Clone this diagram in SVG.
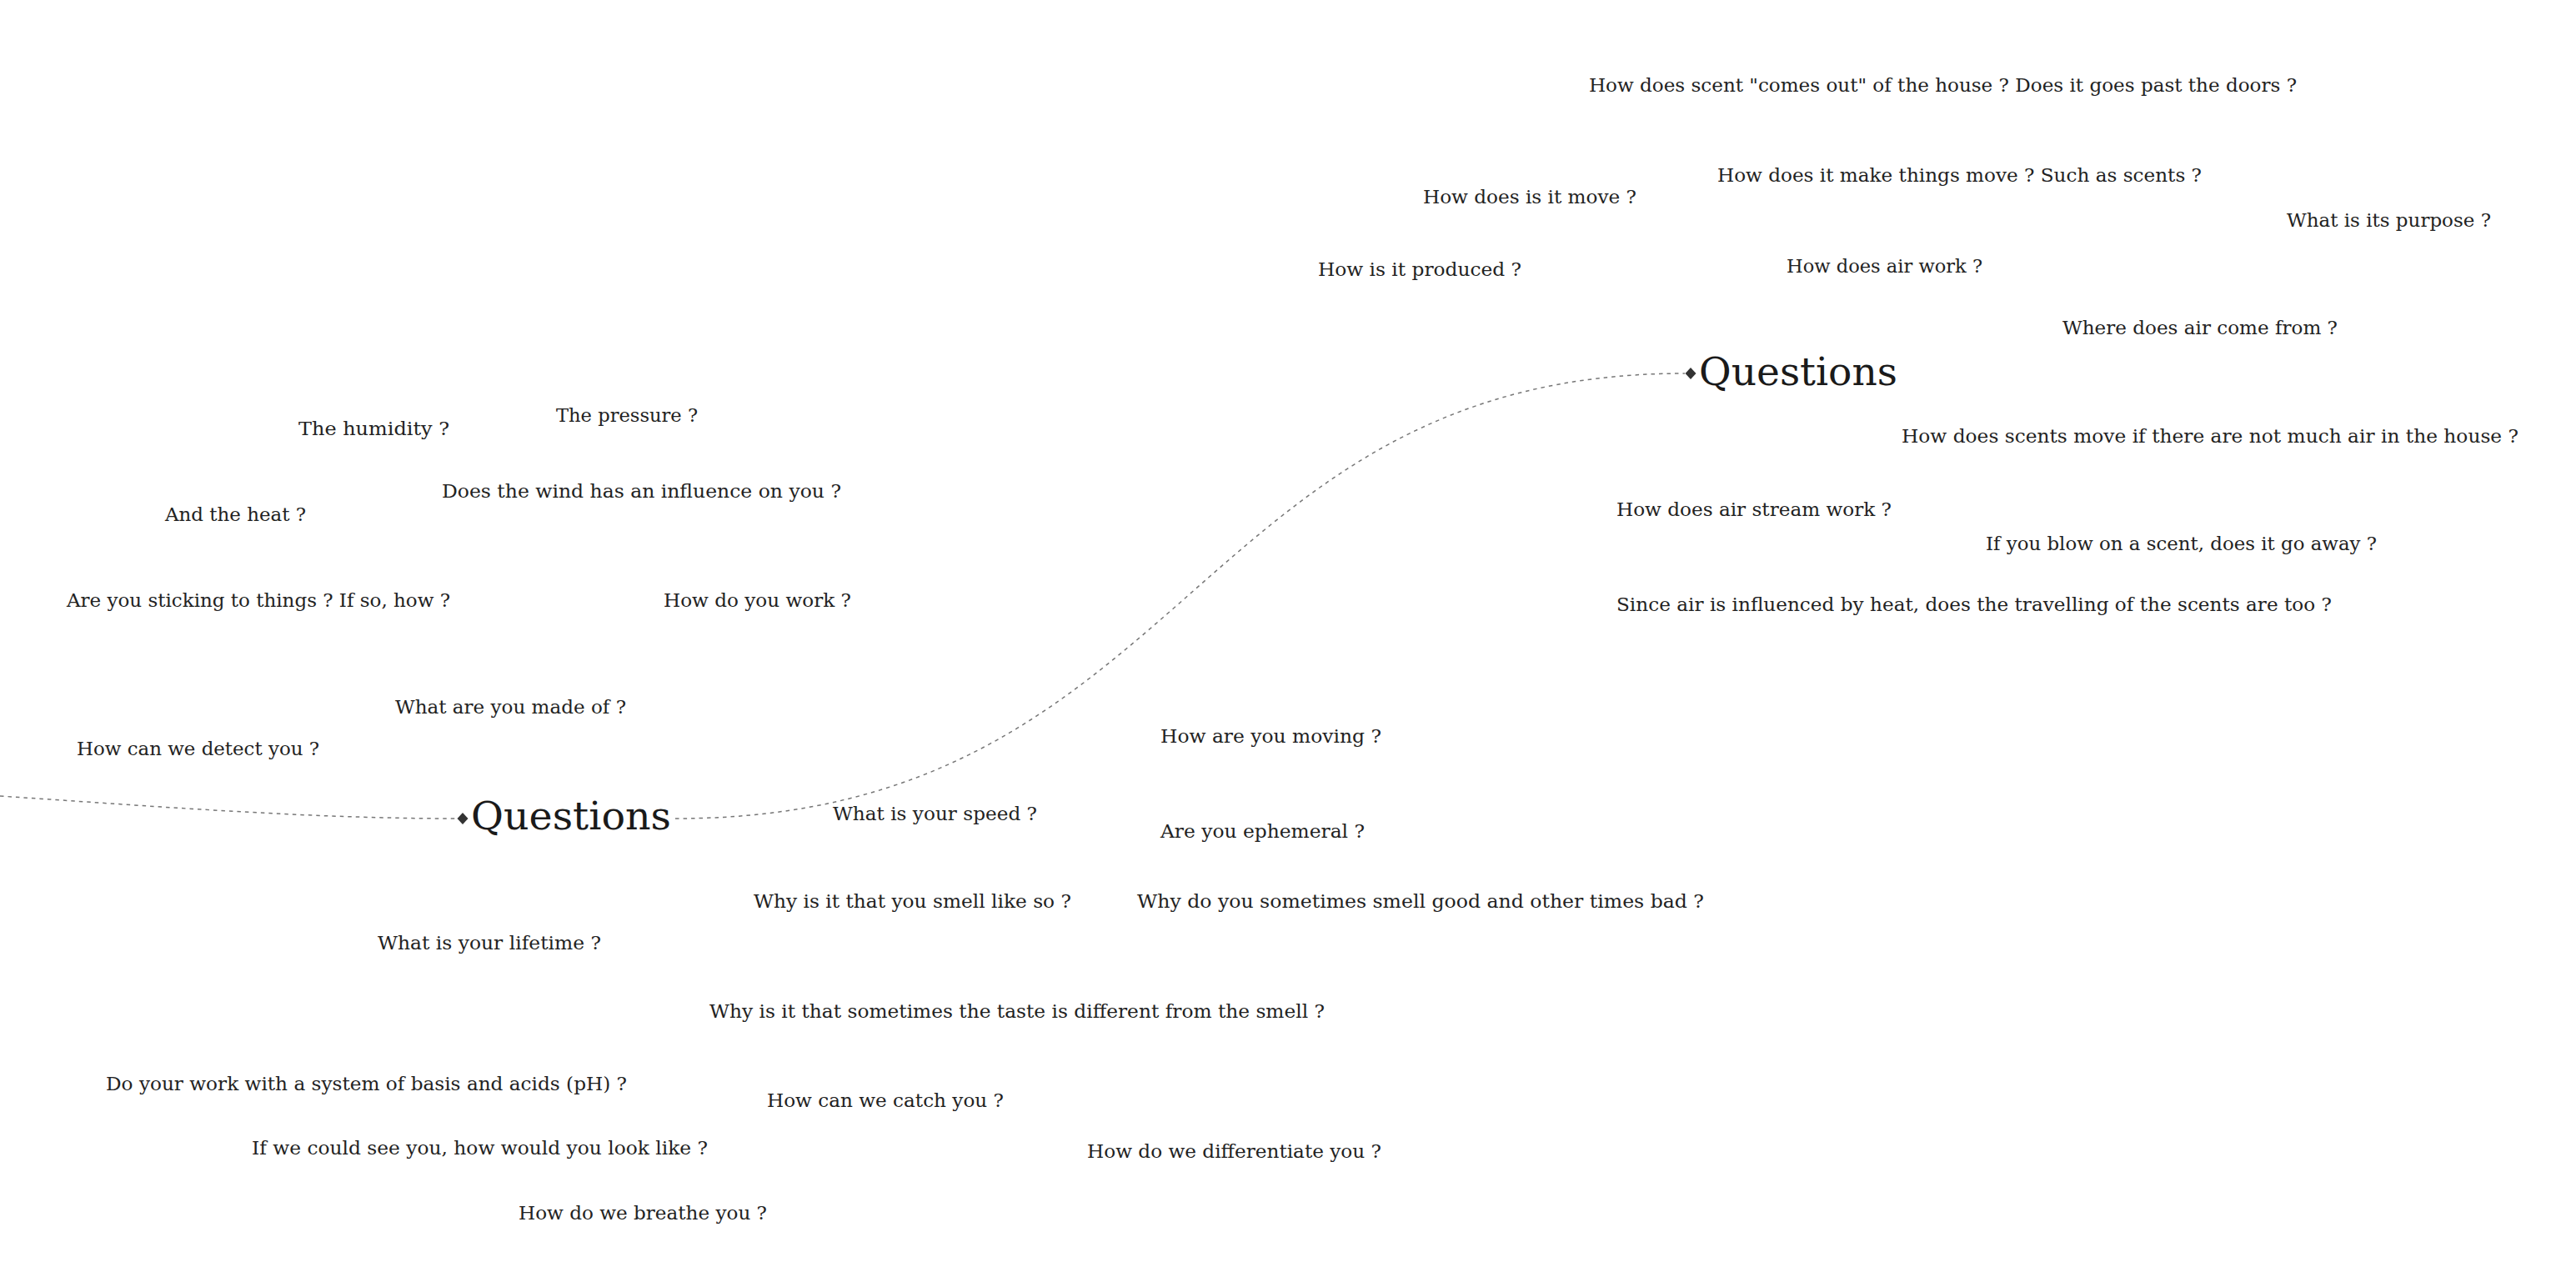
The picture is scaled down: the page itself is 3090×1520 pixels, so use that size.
<svg xmlns="http://www.w3.org/2000/svg" width="3090" height="1520" viewBox="0 0 3090 1520">
<style>
.q{font-family:"DejaVu Serif","Liberation Serif",serif;font-size:22.7px;fill:#222}
.h{font-family:"DejaVu Serif","Liberation Serif",serif;font-size:47px;fill:#1a1a1a}
.c{fill:none;stroke:#777;stroke-width:1.5;stroke-dasharray:4.5 5}
.d{fill:#333}
</style>
<rect width="3090" height="1520" fill="#fff"/>
<g id="connectors">
<path class="c" d="M0,955 C183,967 366,982 548,982"/>
<path class="c" d="M810,982 C1426,982 1429,448 2021,448"/>
</g>
<g id="node-questions-left">
<polygon class="d" points="548.5,982 555,975 561.5,982 555,989"/>
<text class="h" x="565" y="995" textLength="240" lengthAdjust="spacingAndGlyphs">Questions</text>
</g>
<g id="node-questions-right">
<polygon class="d" points="2021.5,448 2028,441 2034.5,448 2028,455"/>
<text class="h" x="2038" y="462" textLength="238" lengthAdjust="spacingAndGlyphs">Questions</text>
</g>
<g id="right-questions" transform="translate(0,-1.5)">
<text class="q" x="1906" y="111" textLength="849" lengthAdjust="spacingAndGlyphs">How does scent "comes out" of the house ? Does it goes past the doors ?</text>
<text class="q" x="1707" y="245" textLength="256" lengthAdjust="spacingAndGlyphs">How does is it move ?</text>
<text class="q" x="2060" y="219" textLength="581" lengthAdjust="spacingAndGlyphs">How does it make things move ? Such as scents ?</text>
<text class="q" x="2743" y="273" textLength="245" lengthAdjust="spacingAndGlyphs">What is its purpose ?</text>
<text class="q" x="1581" y="332" textLength="244" lengthAdjust="spacingAndGlyphs">How is it produced ?</text>
<text class="q" x="2143" y="328" textLength="235" lengthAdjust="spacingAndGlyphs">How does air work ?</text>
<text class="q" x="2474" y="402" textLength="330" lengthAdjust="spacingAndGlyphs">Where does air come from ?</text>
<text class="q" x="2281" y="532" textLength="740" lengthAdjust="spacingAndGlyphs">How does scents move if there are not much air in the house ?</text>
<text class="q" x="1939" y="620" textLength="330" lengthAdjust="spacingAndGlyphs">How does air stream work ?</text>
<text class="q" x="2382" y="661" textLength="469" lengthAdjust="spacingAndGlyphs">If you blow on a scent, does it go away ?</text>
<text class="q" x="1939" y="734" textLength="858" lengthAdjust="spacingAndGlyphs">Since air is influenced by heat, does the travelling of the scents are too ?</text>
</g>
<g id="left-questions" transform="translate(0,-1.5)">
<text class="q" x="358" y="523" textLength="181" lengthAdjust="spacingAndGlyphs">The humidity ?</text>
<text class="q" x="667" y="507" textLength="170" lengthAdjust="spacingAndGlyphs">The pressure ?</text>
<text class="q" x="530" y="598" textLength="479" lengthAdjust="spacingAndGlyphs">Does the wind has an influence on you ?</text>
<text class="q" x="198" y="626" textLength="169" lengthAdjust="spacingAndGlyphs">And the heat ?</text>
<text class="q" x="80" y="729" textLength="460" lengthAdjust="spacingAndGlyphs">Are you sticking to things ? If so, how ?</text>
<text class="q" x="796" y="729" textLength="225" lengthAdjust="spacingAndGlyphs">How do you work ?</text>
<text class="q" x="474" y="857" textLength="277" lengthAdjust="spacingAndGlyphs">What are you made of ?</text>
<text class="q" x="92" y="907" textLength="291" lengthAdjust="spacingAndGlyphs">How can we detect you ?</text>
<text class="q" x="1392" y="892" textLength="265" lengthAdjust="spacingAndGlyphs">How are you moving ?</text>
<text class="q" x="999" y="985" textLength="245" lengthAdjust="spacingAndGlyphs">What is your speed ?</text>
<text class="q" x="1392" y="1006" textLength="245" lengthAdjust="spacingAndGlyphs">Are you ephemeral ?</text>
<text class="q" x="904" y="1090" textLength="381" lengthAdjust="spacingAndGlyphs">Why is it that you smell like so ?</text>
<text class="q" x="1364" y="1090" textLength="680" lengthAdjust="spacingAndGlyphs">Why do you sometimes smell good and other times bad ?</text>
<text class="q" x="453" y="1140" textLength="268" lengthAdjust="spacingAndGlyphs">What is your lifetime ?</text>
<text class="q" x="851" y="1222" textLength="738" lengthAdjust="spacingAndGlyphs">Why is it that sometimes the taste is different from the smell ?</text>
<text class="q" x="127" y="1309" textLength="625" lengthAdjust="spacingAndGlyphs">Do your work with a system of basis and acids (pH) ?</text>
<text class="q" x="920" y="1329" textLength="284" lengthAdjust="spacingAndGlyphs">How can we catch you ?</text>
<text class="q" x="302" y="1386" textLength="547" lengthAdjust="spacingAndGlyphs">If we could see you, how would you look like ?</text>
<text class="q" x="1304" y="1390" textLength="353" lengthAdjust="spacingAndGlyphs">How do we differentiate you ?</text>
<text class="q" x="622" y="1464" textLength="298" lengthAdjust="spacingAndGlyphs">How do we breathe you ?</text>
</g>
</svg>
